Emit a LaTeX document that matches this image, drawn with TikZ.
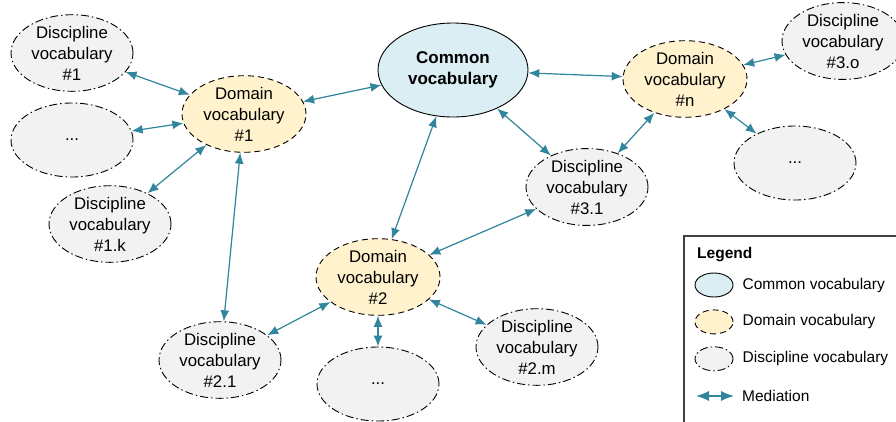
\documentclass[tikz,border=0pt]{standalone}
\usepackage{fontspec}
\setmainfont{Liberation Sans}
\usetikzlibrary{shapes.geometric,arrows.meta,positioning}
\definecolor{commonblue}{HTML}{DAEEF3}
\definecolor{domainyellow}{HTML}{FFF2CC}
\definecolor{discgray}{HTML}{F2F2F2}
\definecolor{mediateal}{HTML}{31859C}
\begin{document}
\begin{tikzpicture}[
  x=1pt, y=-1pt,
  >={Latex[length=11pt,width=9pt]},
  every node/.style={ellipse, inner sep=0pt, align=center, font=\fontsize{16.8}{21}\selectfont},
  commonvoc/.style={draw, line width=0.9pt, fill=commonblue, minimum width=150pt, minimum height=94pt, font=\bfseries\fontsize{17}{21.5}\selectfont},
  domainvoc/.style={draw, line width=0.9pt, dash pattern=on 6pt off 4pt, fill=domainyellow, minimum width=124pt, minimum height=74pt},
  discvoc/.style={draw, line width=0.9pt, dash pattern=on 8pt off 3pt on 1.5pt off 3pt, fill=discgray, minimum width=122pt, minimum height=74pt},
  mediate/.style={<->, draw=mediateal, fill=mediateal, line width=1.2pt},
  legtext/.style={shape=rectangle, anchor=west, inner sep=0pt, font=\fontsize{15.5}{18}\selectfont}
]
  \useasboundingbox (0,0) rectangle (896,421);
  \clip (0,0) rectangle (896,421);

  % vocabularies
  \node (cv) [commonvoc] at (453,70) {Common\\vocabulary};
  \node (dom1) [domainvoc] at (244,114) {Domain\\vocabulary\\\#1};
  \node (dom2) [domainvoc] at (378,277) {Domain\\vocabulary\\\#2};
  \node (domn) [domainvoc] at (685,79) {Domain\\vocabulary\\\#n};
  \node (d1) [discvoc] at (72,53) {Discipline\\vocabulary\\\#1};
  \node (d1x) [discvoc] at (72,140) {...};
  \node (d1k) [discvoc] at (110,224) {Discipline\\vocabulary\\\#1.k};
  \node (d21) [discvoc] at (220,360) {Discipline\\vocabulary\\\#2.1};
  \node (d2x) [discvoc] at (378,384) {...};
  \node (d2m) [discvoc] at (537,347) {Discipline\\vocabulary\\\#2.m};
  \node (d31) [discvoc] at (587,187) {Discipline\\vocabulary\\\#3.1};
  \node (d3o) [discvoc] at (843,41) {Discipline\\vocabulary\\\#3.o};
  \node (d3x) [discvoc] at (795,163) {...};

  % mediations
  \draw[mediate] (d1) -- (dom1);
  \draw[mediate] (d1x) -- (dom1);
  \draw[mediate] (d1k) -- (dom1);
  \draw[mediate] (dom1) -- (cv);
  \draw[mediate] (dom1) -- (d21);
  \draw[mediate] (cv) -- (dom2);
  \draw[mediate] (cv) -- (d31);
  \draw[mediate] (cv) -- (domn);
  \draw[mediate] (domn) -- (d31);
  \draw[mediate] (domn) -- (d3o);
  \draw[mediate] (domn) -- (d3x);
  \draw[mediate] (d31) -- (dom2);
  \draw[mediate] (dom2) -- (d21);
  \draw[mediate] (dom2) -- (d2x);
  \draw[mediate] (dom2) -- (d2m);

  % legend
  \draw[line width=1.3pt, black!75] (684,236) rectangle (920,440);
  \node (lgtitle) [legtext, font=\bfseries\fontsize{15.5}{18}\selectfont] at (697,255) {Legend};
  \node (lgcommon) [commonvoc, minimum width=38pt, minimum height=24pt] at (714,285) {};
  \node (lgdomain) [domainvoc, minimum width=38pt, minimum height=24pt, below=12pt of lgcommon] {};
  \node (lgdisc) [discvoc, minimum width=38pt, minimum height=24pt, below=12pt of lgdomain] {};
  \coordinate (lgarra) at (696,396);
  \coordinate (lgarrb) at (734,396);
  \draw[mediate, {Latex[length=13pt,width=10pt]}-{Latex[length=13pt,width=10pt]}] (lgarra) -- (lgarrb);
  \node (lgcommontxt) [legtext, right=9pt of lgcommon] {Common vocabulary};
  \node (lgdomaintxt) [legtext, right=9pt of lgdomain] {Domain vocabulary};
  \node (lgdisctxt) [legtext, right=9pt of lgdisc] {Discipline vocabulary};
  \node (lgmedtxt) [legtext] at (742,396) {Mediation};
\end{tikzpicture}
\end{document}
